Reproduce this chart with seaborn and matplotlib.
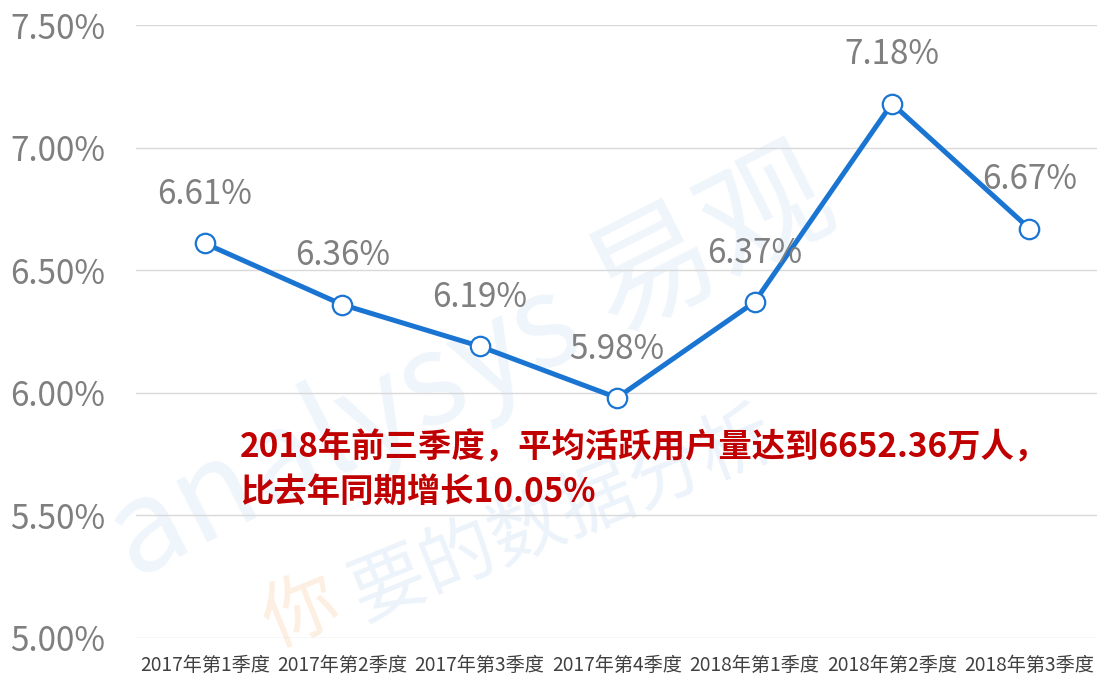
import pandas as pd
import matplotlib.pyplot as plt
import seaborn as sns

# quarterly active-user share
quarters = [
    "2017年第1季度",
    "2017年第2季度",
    "2017年第3季度",
    "2017年第4季度",
    "2018年第1季度",
    "2018年第2季度",
    "2018年第3季度",
]
rates = [6.61, 6.36, 6.19, 5.98, 6.37, 7.18, 6.67]
y_ticks = [5.0, 5.5, 6.0, 6.5, 7.0, 7.5]
note = "2018年前三季度，平均活跃用户量达到6652.36万人，\n比去年同期增长10.05%"

sns.set_style("white")
plt.rcParams["font.family"] = ["Noto Sans CJK SC", "DejaVu Sans"]

df = pd.DataFrame({"quarter": quarters, "rate": rates})
df["pos"] = range(len(df))

fig = plt.figure(figsize=(10.97, 6.79), dpi=100)
ax = fig.add_axes([0.124, 0.0604, 0.877, 0.9026])
ax.set_zorder(2)
ax.patch.set_alpha(0)

# faint watermark behind everything
fig.text(0.08, 0.15, "analysys 易观", fontsize=92, color="#e4eff9", alpha=0.6,
         rotation=27, zorder=0)
fig.text(0.23, 0.05, "你", fontsize=54, color="#fde8d6", alpha=0.7,
         rotation=22, zorder=0)
fig.text(0.31, 0.09, "要的数据分析", fontsize=54, color="#e4eff9", alpha=0.7,
         rotation=22, zorder=0)

sns.lineplot(
    x="pos",
    y="rate",
    data=df,
    ax=ax,
    color="#1a75d2",
    linewidth=3.6,
    marker="o",
    markersize=14,
    markerfacecolor="white",
    markeredgecolor="#1a75d2",
    markeredgewidth=1.6,
    zorder=3,
)

for x, y in zip(df["pos"], df["rate"]):
    ax.annotate(f"{y:.2f}%", (x, y), xytext=(0, 35), textcoords="offset points",
                ha="center", va="center", fontsize=24, color="#7f7f7f", zorder=4)

ax.set_xlim(-0.5, len(quarters) - 0.5)
ax.set_ylim(5.0, 7.5)
ax.set_xticks(df["pos"])
ax.set_xticklabels(quarters, fontsize=13.8, color="#404040")
ax.set_yticks(y_ticks)
ax.set_yticklabels([f"{t:.2f}%" for t in y_ticks], fontsize=24, color="#7f7f7f")
ax.tick_params(length=0)
ax.tick_params(axis="x", pad=12)
ax.tick_params(axis="y", pad=22)
ax.grid(axis="y", color="#d9d9d9", linewidth=1)
ax.set_xlabel("")
ax.set_ylabel("")
sns.despine(ax=ax, left=True, bottom=True)

fig.text(0.219, 0.308, note, fontsize=24, color="#c00000", fontweight="bold",
         linespacing=1.42, va="center", ha="left", zorder=5)

fig.savefig("out.png", dpi=100)
